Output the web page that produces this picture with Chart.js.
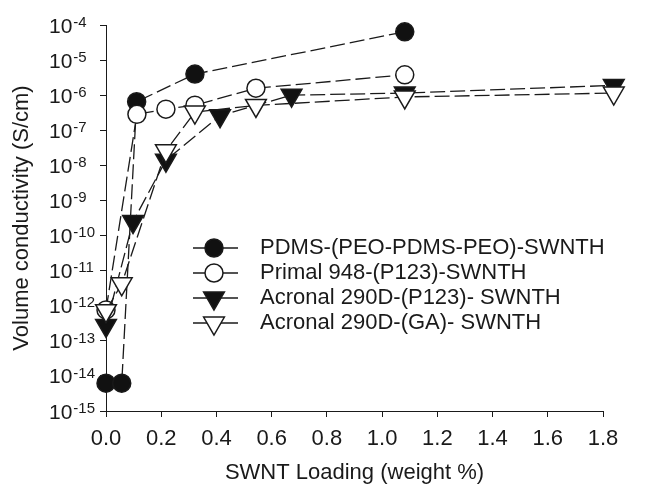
<!DOCTYPE html>
<html>
<head>
<meta charset="utf-8">
<script src="https://cdn.jsdelivr.net/npm/chart.js@4.4.1/dist/chart.umd.min.js"></script>
<style>
  html, body { margin: 0; padding: 0; background: #fff; }
  canvas { display: block; }
</style>
</head>
<body>
<canvas id="chart" width="665" height="486"></canvas>
<script>
// Values (x = SWNT loading in weight %, y = S/cm)
const pdmsX = [0, 0.057, 0.111, 0.322, 1.082];
const pdmsY = [6.2e-15, 6.2e-15, 6.5e-7, 4.0e-6, 6.4e-5];

const primalX = [0, 0.112, 0.217, 0.322, 0.543, 1.082];
const primalY = [7.6e-13, 2.85e-7, 4.0e-7, 5.2e-7, 1.58e-6, 3.8e-6];

const acronalP123X = [0, 0.098, 0.217, 0.413, 0.672, 1.082, 1.839];
const acronalP123Y = [2.75e-13, 2.5e-10, 1.4e-8, 2.6e-7, 1.0e-6, 1.15e-6, 1.9e-6];

const acronalGAX = [0, 0.057, 0.217, 0.322, 0.543, 1.082, 1.839];
const acronalGAY = [7.2e-13, 4.2e-12, 2.6e-8, 3.3e-7, 5.1e-7, 8.9e-7, 1.15e-6];

const seriesLabels = [
  'PDMS-(PEO-PDMS-PEO)-SWNTH',
  'Primal 948-(P123)-SWNTH',
  'Acronal 290D-(P123)- SWNTH',
  'Acronal 290D-(GA)- SWNTH'
];

const xTicks = [0, 0.2, 0.4, 0.6, 0.8, 1.0, 1.2, 1.4, 1.6, 1.8];
const yTickExps = [-15, -14, -13, -12, -11, -10, -9, -8, -7, -6, -5, -4];

const FONT = '"Liberation Sans", Arial, Helvetica, sans-serif';
const INK = '#1a1a1a';

function toPoints(xs, ys) {
  return xs.map((x, i) => ({ x: x, y: ys[i] }));
}

// marker looks: filled / open circle, filled / open down-triangle
const markerStyles = [
  { style: 'circle', radius: 9, rotation: 0, fill: '#111' },
  { style: 'circle', radius: 9, rotation: 0, fill: '#fff' },
  { style: 'triangle', radius: 12, rotation: 180, fill: '#111' },
  { style: 'triangle', radius: 12, rotation: 180, fill: '#fff' }
];

const seriesData = [
  toPoints(pdmsX, pdmsY),
  toPoints(primalX, primalY),
  toPoints(acronalP123X, acronalP123Y),
  toPoints(acronalGAX, acronalGAY)
];

const datasets = seriesData.map((pts, i) => ({
  label: seriesLabels[i],
  data: pts,
  borderColor: INK,
  borderWidth: 1.3,
  borderDash: [15, 5],
  fill: false,
  tension: 0,
  clip: false,
  pointStyle: markerStyles[i].style,
  pointRadius: markerStyles[i].radius,
  pointHoverRadius: markerStyles[i].radius,
  pointRotation: markerStyles[i].rotation,
  pointBackgroundColor: markerStyles[i].fill,
  pointBorderColor: INK,
  pointBorderWidth: 1.5,
  order: 4 - i // later series end up on top
}));

function drawMarker(ctx, m, x, y) {
  ctx.save();
  ctx.fillStyle = m.fill;
  ctx.strokeStyle = INK;
  ctx.lineWidth = 1.5;
  ctx.beginPath();
  if (m.style === 'circle') {
    ctx.arc(x, y, m.radius, 0, Math.PI * 2);
  } else {
    let rad = m.rotation * Math.PI / 180;
    for (let k = 0; k < 3; k++) {
      const px = x + Math.sin(rad) * m.radius;
      const py = y - Math.cos(rad) * m.radius;
      if (k === 0) ctx.moveTo(px, py); else ctx.lineTo(px, py);
      rad += 2 * Math.PI / 3;
    }
    ctx.closePath();
  }
  ctx.fill();
  ctx.stroke();
  ctx.restore();
}

// y tick labels as 10 with a raised exponent, plus the line+marker legend
const decorPlugin = {
  id: 'decor',
  afterDraw(chart) {
    const ctx = chart.ctx;
    const yScale = chart.scales.y;
    ctx.save();
    ctx.fillStyle = INK;
    ctx.textBaseline = 'alphabetic';
    ctx.textAlign = 'left';
    yTickExps.forEach(e => {
      const y = yScale.getPixelForValue(Math.pow(10, e));
      ctx.font = '21px ' + FONT;
      ctx.fillText('10', 49, y + 7.5);
      const w = ctx.measureText('10').width;
      ctx.font = '15px ' + FONT;
      ctx.fillText(String(e), 49 + w + 1, y + 1.7);
    });

    const rowY = [248, 273, 298, 323];
    seriesLabels.forEach((label, i) => {
      const y = rowY[i];
      ctx.strokeStyle = INK;
      ctx.lineWidth = 1.3;
      ctx.beginPath();
      ctx.moveTo(193, y);
      ctx.lineTo(238, y);
      ctx.stroke();
      drawMarker(ctx, markerStyles[i], 214, y);
      ctx.fillStyle = INK;
      ctx.font = '22px ' + FONT;
      ctx.textBaseline = 'middle';
      ctx.fillText(label, 260, y);
    });
    ctx.restore();
  }
};

const axisGrid = {
  display: true,
  drawOnChartArea: false,
  drawTicks: true,
  tickLength: 6,
  color: INK,
  lineWidth: 1
};

new Chart(document.getElementById('chart').getContext('2d'), {
  type: 'line',
  data: { datasets: datasets },
  options: {
    responsive: false,
    animation: false,
    devicePixelRatio: 1,
    layout: { padding: { left: 0, right: 62, top: 25, bottom: 0 } },
    plugins: {
      legend: { display: false },
      tooltip: { enabled: false }
    },
    scales: {
      x: {
        type: 'linear',
        min: 0,
        max: 1.8,
        afterBuildTicks: s => { s.ticks = xTicks.map(v => ({ value: v })); },
        afterFit: s => { s.height = 75; },
        ticks: {
          font: { family: FONT, size: 22 },
          color: INK,
          padding: 9,
          autoSkip: false,
          maxRotation: 0,
          callback: v => Number(v).toFixed(1)
        },
        grid: axisGrid,
        border: { display: true, color: INK, width: 1 },
        title: {
          display: true,
          text: 'SWNT Loading (weight %)',
          font: { family: FONT, size: 22 },
          color: INK,
          padding: { top: 0, bottom: 0 }
        }
      },
      y: {
        type: 'logarithmic',
        min: 1e-15,
        max: 1e-4,
        afterBuildTicks: s => { s.ticks = yTickExps.map(e => ({ value: Math.pow(10, e) })); },
        afterFit: s => { s.width = 106; },
        ticks: { display: false },
        grid: axisGrid,
        border: { display: true, color: INK, width: 1 },
        title: {
          display: true,
          text: 'Volume conductivity (S/cm)',
          font: { family: FONT, size: 22 },
          color: INK,
          padding: { top: 9, bottom: 0 }
        }
      }
    }
  },
  plugins: [decorPlugin]
});
</script>
</body>
</html>
